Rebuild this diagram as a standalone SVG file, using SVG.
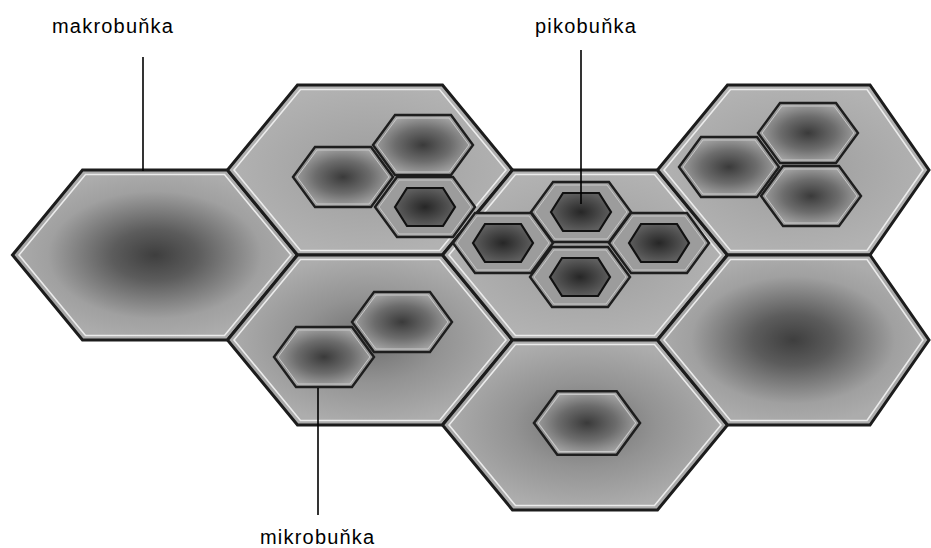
<svg xmlns="http://www.w3.org/2000/svg" width="931" height="548" viewBox="0 0 931 548">
<style>
.lbl{font-family:"Liberation Sans",Arial,sans-serif;font-size:20px;letter-spacing:1.2px;fill:#000}
.mac{stroke:#1c1c1c;stroke-width:3;stroke-linejoin:miter}
.hl{fill:none;stroke:#ececec;stroke-width:1.6}
.mic{stroke:#1e1e1e;stroke-width:2.4;fill:url(#gMicro)}
.mhl{fill:none;stroke:#c8c8c8;stroke-width:1}
.ring{stroke:#1e1e1e;stroke-width:2.4;fill:#9c9c9c}
.pin{stroke:#111;stroke-width:2.2;fill:url(#gPico)}
.lead{stroke:#000;stroke-width:1.6;fill:none}
</style>
<defs>
<radialGradient id="gDark" cx="50%" cy="50%" r="50%">
<stop offset="0" stop-color="#3e3e3e"/>
<stop offset="0.3" stop-color="#5c5c5c"/>
<stop offset="0.75" stop-color="#a0a0a0"/>
<stop offset="1" stop-color="#acacac"/>
</radialGradient>
<radialGradient id="gMid" cx="50%" cy="50%" r="50%">
<stop offset="0" stop-color="#6e6e6e"/>
<stop offset="0.5" stop-color="#939393"/>
<stop offset="1" stop-color="#adadad"/>
</radialGradient>
<radialGradient id="gLight" cx="50%" cy="50%" r="50%">
<stop offset="0" stop-color="#9c9c9c"/>
<stop offset="1" stop-color="#b2b2b2"/>
</radialGradient>
<radialGradient id="gMicro" cx="50%" cy="50%" r="50%">
<stop offset="0" stop-color="#3a3a3a"/>
<stop offset="0.55" stop-color="#6c6c6c"/>
<stop offset="1" stop-color="#a2a2a2"/>
</radialGradient>
<radialGradient id="gPico" cx="50%" cy="50%" r="50%">
<stop offset="0" stop-color="#262626"/>
<stop offset="1" stop-color="#5e5e5e"/>
</radialGradient>
<polygon id="macP" points="-142.5,0 -72.5,-85 72.5,-85 142.5,0 72.5,85 -72.5,85"/>
<polygon id="macH" points="-136,0 -69.5,-80.5 69.5,-80.5 136,0 69.5,80.5 -69.5,80.5"/>
<polygon id="macPR" points="-142.5,0 -72.5,-85 70,-85 129,0 70,85 -72.5,85"/>
<polygon id="macHR" points="-136,0 -69.5,-80.5 67,-80.5 123,0 67,80.5 -69.5,80.5"/>
<polygon id="micP" points="-50,0 -28,-30 28,-30 50,0 28,30 -28,30"/>
<polygon id="micH" points="-46,0 -26,-27 26,-27 46,0 26,27 -26,27"/>
<polygon id="picI" points="-30,0 -18,-19 18,-19 30,0 18,19 -18,19"/>
</defs>

<g id="makro-1" transform="translate(155,255)">
<use href="#macP" class="mac" fill="url(#gDark)"/>
<use href="#macH" class="hl"/>
</g>

<g id="makro-2" transform="translate(370,170)">
<use href="#macP" class="mac" fill="url(#gLight)"/>
<use href="#macH" class="hl"/>
<g id="mikro-2a" transform="translate(53,-25)"><use href="#micP" class="mic"/><use href="#micH" class="mhl"/></g>
<g id="mikro-2b" transform="translate(-27,7)"><use href="#micP" class="mic"/><use href="#micH" class="mhl"/></g>
<g id="mikro-2c" transform="translate(55,37)"><use href="#micP" class="ring"/><use href="#micH" class="mhl"/><use href="#picI" class="pin"/></g>
</g>

<g id="makro-3" transform="translate(370,340)">
<use href="#macP" class="mac" fill="url(#gMid)"/>
<use href="#macH" class="hl"/>
<g id="mikro-3a" transform="translate(32,-18)"><use href="#micP" class="mic"/><use href="#micH" class="mhl"/></g>
<g id="mikro-3b" transform="translate(-46,17)"><use href="#micP" class="mic"/><use href="#micH" class="mhl"/></g>
</g>

<g id="makro-4" transform="translate(585,255)">
<use href="#macP" class="mac" fill="url(#gLight)"/>
<use href="#macH" class="hl"/>
<g id="piko-left" transform="translate(-82,-12)"><use href="#micP" class="ring"/><use href="#micH" class="mhl"/><use href="#picI" class="pin"/></g>
<g id="piko-right" transform="translate(74,-12)"><use href="#micP" class="ring"/><use href="#micH" class="mhl"/><use href="#picI" class="pin"/></g>
<g id="piko-top" transform="translate(-4,-43)"><use href="#micP" class="ring"/><use href="#micH" class="mhl"/><use href="#picI" class="pin"/></g>
<g id="piko-bottom" transform="translate(-5,22)"><use href="#micP" class="ring"/><use href="#micH" class="mhl"/><use href="#picI" class="pin"/></g>
</g>

<g id="makro-5" transform="translate(585,425)">
<use href="#macP" class="mac" fill="url(#gMid)"/>
<use href="#macH" class="hl"/>
<g id="mikro-5" transform="translate(2,-2) scale(1.06)"><use href="#micP" class="mic"/><use href="#micH" class="mhl"/></g>
</g>

<g id="makro-6" transform="translate(800,170)">
<use href="#macPR" class="mac" fill="url(#gLight)"/>
<use href="#macHR" class="hl"/>
<g id="mikro-6a" transform="translate(8,-37)"><use href="#micP" class="mic"/><use href="#micH" class="mhl"/></g>
<g id="mikro-6b" transform="translate(-71,-3)"><use href="#micP" class="mic"/><use href="#micH" class="mhl"/></g>
<g id="mikro-6c" transform="translate(11,26)"><use href="#micP" class="mic"/><use href="#micH" class="mhl"/></g>
</g>

<g id="makro-7" transform="translate(800,340)">
<use href="#macPR" class="mac" fill="url(#gDark)"/>
<use href="#macHR" class="hl"/>
</g>

<g id="connectors">
<line class="lead" x1="143" y1="57" x2="143" y2="171"/>
<line class="lead" x1="581" y1="50" x2="581" y2="204"/>
<line class="lead" x1="318" y1="388" x2="318" y2="515"/>
</g>

<g id="labels">
<text class="lbl" x="52" y="33">makrobuňka</text>
<text class="lbl" x="535" y="33">pikobuňka</text>
<text class="lbl" x="260" y="544">mikrobuňka</text>
</g>
</svg>
